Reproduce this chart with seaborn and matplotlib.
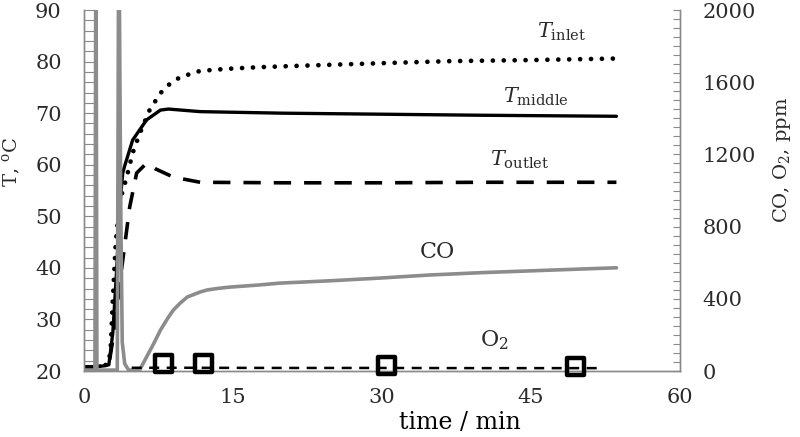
import numpy as np
import pandas as pd
import matplotlib
matplotlib.use("Agg")
import matplotlib.pyplot as plt
from matplotlib.ticker import MultipleLocator
import seaborn as sns

# --- data (time in min) ---
t_inlet = [0, 1, 2, 2.5, 2.7, 2.9, 3.2, 3.6, 4.3, 4.9, 5.6, 6.6, 7.7, 8.7, 9.7, 11.7, 14.4, 17.4, 21.8, 30, 37, 45, 53.6]
T_inlet = [20.8, 20.8, 21, 21.5, 25, 33.8, 45, 53, 57.6, 62.3, 66, 70.6, 73.9, 75.8, 77, 78.2, 78.6, 78.9, 79.2, 79.7, 80.1, 80.3, 80.6]

t_middle = [0, 1, 2, 2.5, 2.6, 2.9, 3.3, 3.6, 3.9, 4.1, 4.9, 6.3, 7.7, 8.5, 11.7, 20, 30, 40, 53.6]
T_middle = [20.8, 20.8, 21, 21.2, 22.7, 27.4, 40, 52, 58.4, 59.8, 64.8, 68.7, 70.6, 70.8, 70.3, 70.0, 69.8, 69.6, 69.4]

t_outlet = [0, 1, 2, 2.5, 2.9, 3.3, 3.8, 4.6, 5.3, 6.3, 7.2, 9, 11.7, 20, 30, 40, 53.6]
T_outlet = [20.8, 20.8, 21, 21.2, 26, 32, 40, 51.8, 58.4, 60.3, 59.2, 57.6, 56.6, 56.5, 56.5, 56.6, 56.6]

t_co = [0, 1.1, 1.2, 1.3, 3.35, 3.5, 3.7, 3.85, 4.1, 4.5, 5.6, 6.3, 7.0, 7.7, 8.4, 9, 9.7, 10.4, 11.7, 12.4, 13.5,
        14.7, 17.7, 19.7, 24.8, 29.8, 34.8, 40, 45, 50, 53.6]
co_ppm = [5, 5, 2600, 5, 5, 2600, 900, 160, 40, 5, 5, 78, 150, 227, 290, 338, 377, 410, 438, 449, 458,
          465, 477, 487, 500, 515, 532, 545, 555, 565, 572]

t_o2 = [4.8, 10, 20, 30, 40, 52]
o2_ppm = [18, 18, 17, 17, 16, 16]
t_o2_mark = [8, 12, 30.5, 49.5]
o2_mark_ppm = [40, 40, 28, 24]

x_ticks = [0, 15, 30, 45, 60]
T_ticks = [20, 30, 40, 50, 60, 70, 80, 90]
ppm_ticks = [0, 400, 800, 1200, 1600, 2000]

sns.set_style("white")
plt.rcParams['font.family'] = ['DejaVu Serif']
plt.rcParams['mathtext.fontset'] = 'dejavuserif'

txt = '#2b2b2b'
spine_c = '#8a8a8a'

fig = plt.figure(figsize=(8, 4.37), dpi=100)
ax = fig.add_axes([0.105, 0.151, 0.745, 0.826])
ax2 = ax.twinx()

# temperatures on the left axis
sns.lineplot(x=t_inlet, y=T_inlet, ax=ax, color='black', lw=3.4, sort=False,
             linestyle=(0, (0.01, 2.3)), dash_capstyle='round')
sns.lineplot(x=t_middle, y=T_middle, ax=ax, color='black', lw=2.4, sort=False)
sns.lineplot(x=t_outlet, y=T_outlet, ax=ax, color='black', lw=2.6, sort=False,
             linestyle=(0, (4.8, 3.6)))

# CO and O2 on the right axis
sns.lineplot(x=t_co, y=co_ppm, ax=ax2, color='#8c8c8c', lw=2.6, sort=False)
sns.lineplot(x=t_o2, y=o2_ppm, ax=ax2, color='black', lw=1.8, sort=False,
             linestyle=(0, (4, 3)))
sns.scatterplot(x=t_o2_mark, y=o2_mark_ppm, ax=ax2, marker='s', s=150,
                facecolor='none', edgecolor='black', linewidth=3.2, zorder=5, clip_on=False)

ax.set_xlim(0, 60)
ax.set_ylim(20, 90)
ax2.set_ylim(0, 2000)

ax.set_xticks(x_ticks)
ax.set_yticks(T_ticks)
ax2.set_yticks(ppm_ticks)
ax.xaxis.set_minor_locator(MultipleLocator(5))
ax.yaxis.set_minor_locator(MultipleLocator(2))
ax2.yaxis.set_minor_locator(MultipleLocator(50))

ax.tick_params(axis='y', which='both', direction='in', length=8, width=0.8, color=spine_c,
               labelsize=15, labelcolor=txt, pad=16)
ax.tick_params(axis='x', which='major', direction='in', length=0, labelsize=15, labelcolor=txt, pad=12)
ax.tick_params(axis='x', which='minor', direction='in', length=4, width=0.8, color=spine_c)
ax2.tick_params(axis='y', which='both', direction='in', length=5, width=0.8, color=spine_c,
                labelsize=15, labelcolor=txt, pad=16)

for a in (ax, ax2):
    a.spines['top'].set_visible(False)
    for s in ('left', 'right', 'bottom'):
        a.spines[s].set_color(spine_c)
        a.spines[s].set_linewidth(1.0)

ax.set_xlabel('time / min', fontsize=17, color='black')
ax.xaxis.set_label_coords(0.63, -0.112)
ax.set_ylabel(r'T, $^{\mathrm{o}}$C', fontsize=14, color=txt)
ax.yaxis.set_label_coords(-0.103, 0.58)
ax2.set_ylabel(r'CO, O$_2$, ppm', fontsize=14, color=txt)
ax2.yaxis.set_label_coords(1.153, 0.585)

# series labels
ax.text(45.6, 84.6, r'$T_{\mathrm{inlet}}$', fontsize=15, color=txt, va='baseline')
ax.text(42.2, 72.0, r'$T_{\mathrm{middle}}$', fontsize=15, color=txt, va='baseline')
ax.text(40.9, 59.8, r'$T_{\mathrm{outlet}}$', fontsize=15, color=txt, va='baseline')
ax.text(33.8, 41.9, 'CO', fontsize=16, color=txt, va='baseline')
ax.text(39.9, 24.7, r'O$_2$', fontsize=16, color=txt, va='baseline')

fig.savefig('out.png', dpi=100)
